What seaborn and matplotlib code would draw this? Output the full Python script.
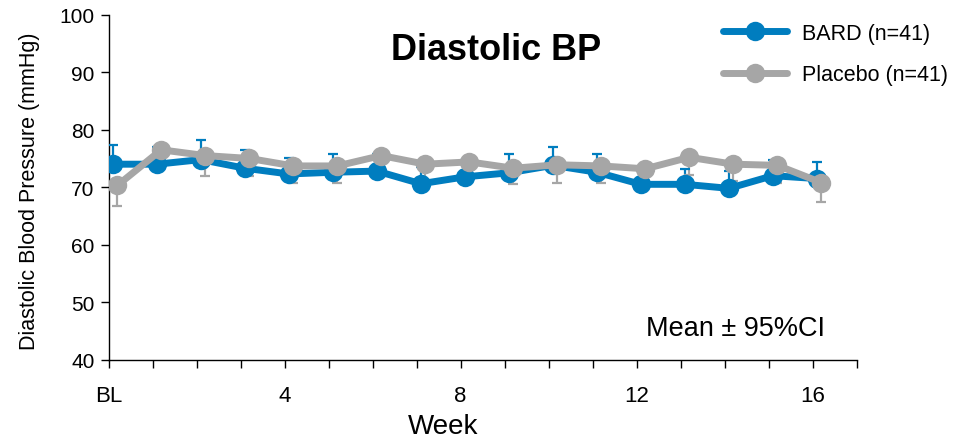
import numpy as np
import pandas as pd
import matplotlib
matplotlib.use("Agg")
import matplotlib.pyplot as plt
import seaborn as sns

# Visit weeks (0 = baseline)
weeks = list(range(0, 17))
tick_weeks = [0, 4, 8, 12, 16]
tick_labels = ["BL", "4", "8", "12", "16"]

# Mean diastolic BP (mmHg) and 95% CI half-widths
bard_mean = [74.0, 74.0, 74.8, 73.3, 72.3, 72.6, 72.8, 70.6, 71.8, 72.5, 73.8, 72.6, 70.5, 70.5, 69.8, 72.0, 71.5]
bard_ci = [3.3, 3.0, 3.4, 3.1, 2.8, 3.2, 3.0, 3.0, 3.0, 3.2, 3.2, 3.2, 2.8, 2.6, 3.0, 2.8, 2.9]
placebo_mean = [70.3, 76.5, 75.5, 75.0, 73.7, 73.7, 75.5, 74.0, 74.4, 73.3, 73.9, 73.7, 73.2, 75.2, 74.0, 73.8, 70.8]
placebo_ci = [3.5, 3.2, 3.5, 3.0, 3.0, 3.0, 3.0, 3.0, 3.0, 2.7, 3.2, 2.9, 3.0, 3.0, 3.0, 3.0, 3.4]

series_names = ["BARD (n=41)", "Placebo (n=41)"]
colors = ["#007DBF", "#A6A6A6"]
x_shift = [0.1, 0.2]

sns.set_theme(style="white")
plt.rcParams["font.family"] = ["Liberation Sans", "DejaVu Sans"]

df = pd.concat([
    pd.DataFrame({"week": np.array(weeks) + x_shift[0], "bp": bard_mean, "ci": bard_ci, "group": series_names[0]}),
    pd.DataFrame({"week": np.array(weeks) + x_shift[1], "bp": placebo_mean, "ci": placebo_ci, "group": series_names[1]}),
])

fig = plt.figure(figsize=(9.61, 4.39), dpi=100)
ax = fig.add_axes([108.5 / 961, 1 - 360.7 / 439, (856.5 - 108.5) / 961, (360.7 - 15.7) / 439])

# One-sided error bars: upward for BARD, downward for placebo
for i, name in enumerate(series_names):
    sub = df[df["group"] == name]
    if i == 0:
        yerr = [np.zeros(len(sub)), sub["ci"].values]
    else:
        yerr = [sub["ci"].values, np.zeros(len(sub))]
    ax.errorbar(sub["week"], sub["bp"], yerr=yerr, fmt="none", ecolor=colors[i],
                elinewidth=1.6, capsize=3.5, capthick=1.6, zorder=2 + 2 * i)

sns.lineplot(data=df, x="week", y="bp", hue="group", palette=colors, marker="o",
             markersize=14, markeredgewidth=0, linewidth=5, ax=ax, legend=False,
             sort=False, estimator=None)
# keep placebo drawn above BARD
for i, line in enumerate(ax.lines):
    line.set_zorder(3 + 2 * i)

ax.set_xlim(0, 17)
ax.set_ylim(40, 100)
ax.set_xticks(range(0, 18))
ax.set_xticklabels([tick_labels[tick_weeks.index(w)] if w in tick_weeks else "" for w in range(0, 18)])
ax.set_yticks(range(40, 101, 10))

for s in ["top", "right"]:
    ax.spines[s].set_visible(False)
for s in ["left", "bottom"]:
    ax.spines[s].set_color("black")
    ax.spines[s].set_linewidth(1.0)

ax.tick_params(axis="both", direction="out", length=6, width=1, color="black",
               labelcolor="black", bottom=True, left=True)
ax.tick_params(axis="x", pad=12, labelsize=16)
ax.tick_params(axis="y", pad=4, labelsize=15)

ax.set_xlabel("Week", fontsize=20, color="black")
ax.xaxis.set_label_coords(0.447, -0.155)
ax.set_ylabel("Diastolic Blood Pressure (mmHg)", fontsize=15.5, color="black")
ax.yaxis.set_label_coords(-0.091, 0.49)

ax.text(0.518, 0.9, "Diastolic BP", transform=ax.transAxes, ha="center", va="center",
        fontsize=26, fontweight="bold", color="black")
ax.text(0.958, 0.093, "Mean \u00b1 95%CI", transform=ax.transAxes, ha="right", va="center",
        fontsize=19.5, color="black")

handles = [plt.Line2D([], [], color=c, linewidth=5, marker="o", markersize=14, markeredgewidth=0)
           for c in colors]
ax.legend(handles, series_names, loc="upper left", bbox_to_anchor=(0.795, 1.033),
          frameon=False, fontsize=15.5, handlelength=3.0, handletextpad=0.7,
          labelspacing=0.95, labelcolor="black")

fig.savefig("out.png", dpi=100)
